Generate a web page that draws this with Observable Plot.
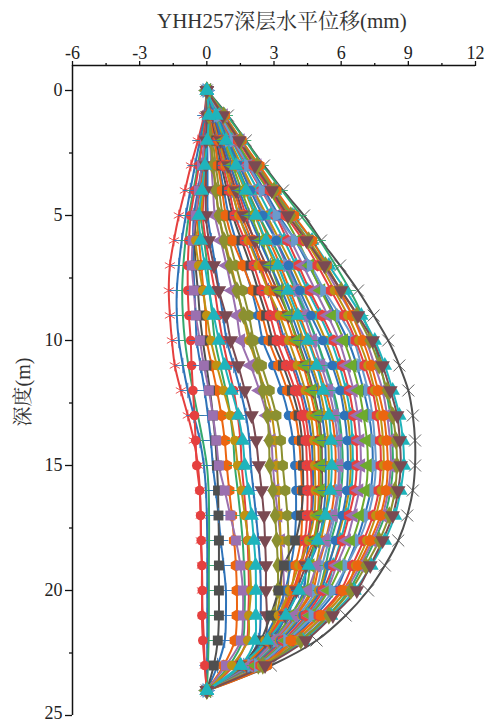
<!DOCTYPE html>
<html>
<head>
<meta charset="utf-8">
<script src="https://cdn.jsdelivr.net/npm/d3@7"></script>
<script src="https://cdn.jsdelivr.net/npm/@observablehq/plot@0.6"></script>
<style>
html,body{margin:0;padding:0;background:#fff;}
#wrap{position:relative;width:488px;height:723px;overflow:hidden;}
.lab{position:absolute;font-family:"Liberation Serif","Noto Serif CJK SC","Noto Sans CJK SC",serif;font-size:20px;color:#333;white-space:nowrap;line-height:20px;}
#title{left:157px;top:11px;font-size:21px;}
#ylab{left:23px;top:392px;transform:translate(-50%,-50%) rotate(-90deg);}
</style>
</head>
<body>
<div id="wrap"><div id="chart"></div>
<div class="lab" id="title">YHH257深层水平位移(mm)</div>
<div class="lab" id="ylab">深度(m)</div></div>
<script>
const depth=[0,1,2,3,4,5,6,7,8,9,10,11,12,13,14,15,16,17,18,19,20,21,22,23,24];
const xMajor=[-6,-3,0,3,6,9,12];
const xMinor=[-4.5,-1.5,1.5,4.5,7.5,10.5];
const yMajor=[0,5,10,15,20];
const yLast=[25];
const yMinor=[2.5,7.5,12.5,17.5,22.5];
const s01=[0,-.13,-.40,-.71,-.98,-1.25,-1.47,-1.65,-1.70,-1.65,-1.56,-1.43,-1.16,-.85,-.58,-.40,-.31,-.27,-.27,-.22,-.22,-.18,-.13,-.09,0];
const s02=[0,-.09,-.31,-.53,-.74,-.94,-1.12,-1.25,-1.34,-1.34,-1.25,-1.07,-.85,-.58,-.31,-.13,-.04,0,.02,.02,.02,.02,.02,.01,0];
const s03=[0,-.05,-.22,-.40,-.60,-.80,-.95,-1.05,-1.10,-1.07,-.98,-.82,-.62,-.40,-.18,0,.08,.10,.10,.09,.09,.09,.08,.05,0];
const s04=[0,-.04,-.18,-.35,-.54,-.72,-.80,-.85,-.85,-.80,-.72,-.68,-.62,-.55,-.50,-.45,-.32,-.28,-.25,-.22,-.20,-.22,-.18,-.09,0];
const s05=[0,.02,-.09,-.22,-.36,-.50,-.63,-.67,-.58,-.49,-.31,-.13,.09,.27,.42,.54,.80,1.05,1.30,1.50,1.61,1.61,1.52,.85,0];
const s06=[0,0,-.09,-.22,-.36,-.50,-.54,-.50,-.40,-.31,-.18,-.02,.14,.27,.38,.45,.50,.52,.54,.54,.54,.54,.49,.31,0];
const s07=[0,.05,-.02,-.09,-.18,-.27,-.49,-.36,-.18,0,.18,.45,.75,1.05,1.25,1.38,1.55,1.70,1.85,1.92,1.97,1.88,1.83,1.12,0];
const s08=[0,.09,.02,-.09,-.22,-.36,-.27,-.09,.09,.31,.54,.80,1.10,1.40,1.60,1.70,1.85,2.0,2.10,2.18,2.19,2.19,2.14,1.52,0];
const s09=[0,.02,-.04,-.04,-.04,-.04,.09,.31,.54,.85,1.07,1.40,1.70,2.0,2.20,2.32,2.45,2.55,2.60,2.64,2.64,2.68,2.60,1.90,0];
const s10=[0,.09,.18,.27,.40,.54,.76,1.03,1.34,1.65,1.97,2.25,2.50,2.70,2.78,2.81,2.95,3.05,3.12,3.17,3.17,3.0,2.8,2.3,0];
const s11=[0,.12,.27,.40,.55,.71,1.0,1.30,1.60,1.88,2.10,2.45,2.80,3.10,3.30,3.39,3.50,3.60,3.65,3.66,3.60,3.35,2.9,2.0,0];
const s12=[0,.15,.35,.55,.76,.98,1.30,1.65,2.0,2.28,2.50,2.95,3.35,3.65,3.85,3.93,3.98,3.98,3.92,3.75,3.50,3.10,2.50,1.60,0];
const s13=[0,.15,.35,.50,.68,.85,1.16,1.61,2.05,2.46,2.77,3.2,3.6,3.95,4.12,4.2,4.25,4.25,4.2,3.97,3.75,3.3,2.7,1.75,0];
const s14=[0,.2,.42,.65,.9,1.16,1.55,1.95,2.3,2.65,2.95,3.4,3.8,4.1,4.25,4.29,4.3,4.2,3.95,3.44,3.2,2.85,2.4,1.55,0];
const s15=[0,.35,.7,1.05,1.4,1.74,2.10,2.41,2.77,3.08,3.39,3.8,4.15,4.4,4.55,4.64,4.68,4.65,4.5,4.2,3.85,3.35,2.7,1.7,0];
const s16=[0,.25,.55,.82,1.12,1.43,1.85,2.3,2.75,3.25,3.66,4.05,4.4,4.65,4.78,4.82,4.85,4.8,4.55,4.11,3.7,3.2,2.6,1.65,0];
const s17=[0,.28,.6,.9,1.22,1.56,2.0,2.5,3.0,3.5,3.89,4.3,4.6,4.85,4.97,5.0,5.0,4.95,4.75,4.29,3.9,3.4,2.75,1.75,0];
const s18=[0,.3,.62,.95,1.3,1.65,2.15,2.65,3.15,3.65,4.06,4.45,4.75,5.0,5.12,5.14,5.15,5.05,4.85,4.42,4.0,3.5,2.85,1.8,0];
const s19=[0,.32,.68,1.05,1.45,1.88,2.35,2.85,3.35,3.8,4.2,4.6,4.95,5.15,5.28,5.31,5.3,5.2,5.0,4.56,4.1,3.55,2.9,1.85,0];
const s20=[0,.42,.85,1.3,1.75,2.19,2.64,3.17,3.62,4.06,4.51,4.9,5.2,5.45,5.55,5.58,5.52,5.3,4.95,4.55,4.11,3.53,2.7,1.5,0];
const s21=[0,.5,1.0,1.5,2.05,2.64,3.1,3.55,3.95,4.35,4.73,5.1,5.45,5.7,5.85,5.9,5.85,5.65,5.3,4.9,4.51,3.89,3.0,1.9,0];
const s22=[0,.45,.9,1.35,1.8,2.32,2.9,3.45,3.95,4.45,4.91,5.3,5.65,5.9,6.03,6.07,6.0,5.85,5.55,5.3,5.0,4.2,3.25,2.05,0];
const s23=[0,.48,.95,1.45,1.95,2.5,3.1,3.65,4.15,4.65,5.18,5.6,5.95,6.15,6.27,6.3,6.25,6.05,5.75,5.45,5.09,4.3,3.3,2.1,0];
const s24=[0,.55,1.15,1.8,2.45,3.08,3.6,4.1,4.6,5.15,5.67,6.05,6.35,6.55,6.68,6.7,6.6,6.35,6.05,5.65,5.18,4.42,3.4,2.15,0];
const s25=[0,.65,1.3,2.0,2.75,3.44,4.05,4.6,5.1,5.65,6.12,6.5,6.8,7.0,7.15,7.19,7.1,6.85,6.5,6.0,5.45,4.65,3.55,2.2,0];
const s26=[0,.6,1.2,1.85,2.5,3.13,3.95,4.65,5.25,5.95,6.57,6.9,7.2,7.4,7.5,7.55,7.45,7.2,6.8,6.25,5.63,4.73,3.6,2.3,0];
const s27=[0,.8,1.55,2.35,3.1,3.89,4.7,5.35,5.95,6.5,6.97,7.35,7.65,7.9,8.03,8.08,8.0,7.75,7.3,6.75,6.07,5.09,3.75,2.68,0];
const s28=[0,.75,1.5,2.25,3.0,3.75,4.55,5.3,6.0,6.7,7.28,7.7,8.05,8.3,8.45,8.49,8.4,8.15,7.7,7.1,6.43,5.45,4.2,2.5,0];
const s29=[0,.72,1.45,2.15,2.9,3.62,4.45,5.25,6.0,6.75,7.41,7.85,8.2,8.5,8.62,8.66,8.55,8.3,7.85,7.3,6.7,5.63,4.42,2.6,0];
const s30=[0,.78,1.55,2.3,3.05,3.84,4.7,5.45,6.2,6.9,7.5,7.95,8.3,8.6,8.76,8.8,8.65,8.4,7.95,7.35,6.6,5.55,4.3,2.55,0];
const s31=[0,.9,1.72,2.5,3.35,4.2,5.05,5.75,6.4,6.95,7.41,7.75,8.0,8.2,8.28,8.31,8.2,7.95,7.5,6.95,6.34,5.4,4.15,2.5,0];
const s32=[0,.75,1.5,2.25,3.0,3.75,4.5,5.2,5.85,6.5,7.1,7.5,7.85,8.05,8.18,8.22,8.1,7.85,7.4,6.85,6.2,5.25,4.0,2.45,0];
const s33=[0,.94,1.74,2.55,3.4,4.34,5.1,5.95,6.75,7.45,8.1,8.6,9.0,9.2,9.3,9.3,9.2,8.95,8.55,7.95,7.2,6.2,4.9,2.86,0];
const s34=[0,.02,-.09,-.22,-.40,-.58,-.62,-.60,-.55,-.50,-.45,-.28,-.10,.05,.18,.27,.40,.52,.62,.75,.85,.85,.80,.48,0];
const s35=[0,.04,-.05,-.15,-.30,-.45,-.35,-.25,-.15,-.05,0,.22,.45,.65,.80,.89,1.0,1.12,1.22,1.3,1.34,1.34,1.25,.75,0];
const s36=[0,.03,0,-.08,-.18,-.27,-.12,.02,.12,.24,.36,.60,.85,1.05,1.18,1.25,1.38,1.5,1.6,1.66,1.7,1.68,1.6,1.0,0];
const s37=[0,.05,.02,-.05,-.12,-.18,-.05,.15,.35,.52,.71,.95,1.2,1.38,1.5,1.56,1.66,1.75,1.82,1.86,1.88,1.85,1.78,1.2,0];
const s38=[0,.03,.02,.03,.03,.04,.2,.38,.55,.72,.89,1.2,1.5,1.75,1.9,1.97,2.08,2.2,2.3,2.38,2.41,2.4,2.3,1.65,0];
const s40=[0,.08,.14,.2,.28,.36,.62,.88,1.12,1.34,1.52,1.95,2.35,2.68,2.88,2.95,3.05,3.18,3.3,3.4,3.44,3.3,3.0,2.2,0];
const s41=[0,.1,.2,.3,.42,.54,.8,1.08,1.36,1.62,1.88,2.25,2.6,2.9,3.05,3.13,3.2,3.25,3.3,3.32,3.3,3.1,2.75,1.95,0];
const s44=[0,.22,.48,.72,1.0,1.25,1.7,2.1,2.45,2.82,3.13,3.55,3.95,4.25,4.42,4.47,4.5,4.48,4.38,4.2,4.02,3.55,2.9,1.8,0];
const s45=[0,.25,.52,.82,1.12,1.43,1.9,2.35,2.75,3.15,3.48,3.9,4.25,4.52,4.68,4.73,4.75,4.7,4.55,4.42,4.33,3.75,3.0,1.9,0];
const s46=[0,.35,.75,1.15,1.55,1.97,2.42,2.85,3.25,3.65,4.02,4.4,4.7,4.95,5.06,5.09,5.08,4.98,4.82,4.62,4.42,3.75,2.95,1.85,0];
const s47=[0,.38,.8,1.25,1.7,2.14,2.6,3.05,3.5,3.95,4.33,4.7,5.05,5.28,5.42,5.45,5.42,5.3,5.1,4.88,4.64,3.95,3.05,1.95,0];
const s48=[0,.42,.88,1.35,1.82,2.32,2.8,3.28,3.72,4.15,4.56,4.95,5.3,5.58,5.72,5.76,5.7,5.55,5.3,5.0,4.73,4.0,3.1,2.0,0];
const s49=[0,.5,1.0,1.52,2.05,2.59,3.1,3.6,4.05,4.5,4.91,5.25,5.6,5.82,5.95,5.98,5.9,5.72,5.45,5.15,4.87,4.1,3.15,2.0,0];
const s50=[0,.5,1.02,1.55,2.1,2.68,3.25,3.8,4.3,4.82,5.31,5.72,6.05,6.28,6.4,6.43,6.35,6.12,5.8,5.4,5.0,4.25,3.25,2.1,0];
const s51=[0,.55,1.12,1.68,2.28,2.86,3.45,3.98,4.5,5.05,5.54,5.92,6.22,6.42,6.5,6.52,6.45,6.25,5.98,5.65,5.31,4.5,3.45,2.15,0];
const s52=[0,.6,1.22,1.85,2.5,3.13,3.75,4.3,4.85,5.4,5.9,6.25,6.55,6.75,6.85,6.88,6.8,6.55,6.25,5.8,5.36,4.6,3.5,2.2,0];
const s53=[0,.62,1.28,1.92,2.58,3.22,3.95,4.55,5.15,5.75,6.3,6.7,7.0,7.25,7.38,7.41,7.32,7.05,6.7,6.25,5.76,4.85,3.7,2.3,0];
const s54=[0,.7,1.4,2.1,2.82,3.53,4.3,4.95,5.55,6.15,6.65,7.05,7.4,7.6,7.74,7.77,7.68,7.42,7.0,6.5,5.98,5.0,3.85,2.4,0];
const s55=[0,.72,1.45,2.2,2.95,3.66,4.42,5.1,5.7,6.3,6.79,7.2,7.5,7.75,7.87,7.9,7.8,7.55,7.15,6.65,6.2,5.2,3.95,2.45,0];

const red="#E5403F",blue="#2F73B9",green="#34A96D",purple="#9B70AF",gold="#BF9212",teal="#1FB4BC",maroon="#7A4A52",olive="#8B9030",orange="#EC6510",steel="#6A9BCC",lime="#6DAA2D",dgray="#4F4F4F";
const hbar={draw(c,s){const r=Math.sqrt(s/Math.PI)*1.2;c.moveTo(-r,0);c.lineTo(r,0);}};
const markerSize={circle:4.8,square:5.6,triangle:5.4,diamond:5.6,hexagon:5.2,asterisk:5.5,plus:5,times:5.5};
// [values, colour, symbol, rotation, open symbol]
const series=[
 [s33,dgray,"times",0,true],
 [s31,green,hbar,0,true],
 [s32,purple,"triangle",270,false],
 [s30,teal,"triangle",0,false],
 [s01,red,"asterisk",0,true],
 [s02,blue,"plus",0,true],
 [s03,green,hbar,0,true],
 [s04,red,"circle",0,false],
 [s34,blue,"plus",0,true],
 [s35,orange,"hexagon",0,false],
 [s36,green,hbar,0,true],
 [s37,red,"circle",0,false],
 [s06,dgray,"square",0,false],
 [s38,blue,"plus",0,true],
 [s05,purple,"square",0,false],
 [s07,gold,"circle",0,false],
 [s40,purple,"triangle",270,false],
 [s41,gold,"circle",0,false],
 [s09,maroon,"triangle",180,false],
 [s10,olive,"diamond",0,false],
 [s11,olive,"hexagon",0,false],
 [s12,blue,"circle",0,false],
 [s13,orange,"hexagon",0,false],
 [s14,dgray,"square",0,false],
 [s44,red,"hexagon",0,false],
 [s45,blue,"plus",0,true],
 [s15,red,"hexagon",0,false],
 [s16,gold,"circle",0,false],
 [s17,orange,"hexagon",0,false],
 [s18,maroon,"triangle",180,false],
 [s46,lime,"triangle",270,false],
 [s47,gold,"circle",0,false],
 [s19,blue,"plus",0,true],
 [s48,orange,"hexagon",0,false],
 [s49,steel,"triangle",90,false],
 [s21,purple,"triangle",270,false],
 [s22,green,hbar,0,true],
 [s50,gold,"circle",0,false],
 [s51,teal,"triangle",0,false],
 [s23,blue,"circle",0,false],
 [s24,red,"hexagon",0,false],
 [s52,purple,"triangle",270,false],
 [s53,blue,"circle",0,false],
 [s25,lime,"triangle",270,false],
 [s26,steel,"triangle",90,false],
 [s54,red,"hexagon",0,false],
 [s55,gold,"circle",0,false],
 [s27,orange,"hexagon",0,false],
 [s28,olive,"diamond",0,false],
 [s29,maroon,"triangle",180,false],
 [s20,teal,"triangle",0,false],
 [s08,teal,"triangle",0,false]
];
const marks=[];
for(const [vals,color] of series){
  marks.push(Plot.line(depth,{x:(d,i)=>vals[i],y:d=>d,stroke:color,strokeWidth:2,curve:"catmull-rom"}));
}
for(const [vals,color,sym,rot,open] of series){
  const r=typeof sym==="string"?markerSize[sym]:5;
  marks.push(Plot.dot(depth,{x:(d,i)=>vals[i],y:d=>d,symbol:()=>sym,rotate:rot,r,
    fill:open?"none":color,stroke:color,strokeWidth:open?0.9:0}));
}
marks.push(
  Plot.ruleX([-6],{stroke:"#111",strokeWidth:1.5}),
  Plot.ruleY([-1],{stroke:"#111",strokeWidth:1.5}),
  Plot.axisX({anchor:"top",ticks:xMajor,tickSize:5,tickPadding:2,label:null,tickFormat:d=>String(d),stroke:"#111",strokeWidth:1.3,fill:"#222"}),
  Plot.axisX({anchor:"top",ticks:xMinor,tickSize:3,label:null,tickFormat:()=>"",stroke:"#111",strokeWidth:1.3}),
  Plot.axisY({anchor:"left",ticks:yMajor,tickSize:7,tickPadding:3,label:null,tickFormat:d=>String(d),stroke:"#111",strokeWidth:1.3,fill:"#222"}),
  Plot.axisY({anchor:"left",ticks:yLast,tickSize:0,tickPadding:10,label:null,tickFormat:d=>String(d),fill:"#222",dy:-2}),
  Plot.axisY({anchor:"left",ticks:yLast,tickSize:7,label:null,tickFormat:()=>"",stroke:"#111",strokeWidth:1.3}),
  Plot.axisY({anchor:"left",ticks:yMinor,tickSize:3,label:null,tickFormat:()=>"",stroke:"#111",strokeWidth:1.3})
);
const chart=Plot.plot({
  width:488,height:723,
  marginTop:65,marginBottom:8,marginLeft:72,marginRight:13,
  style:{fontFamily:'"Liberation Serif",serif',fontSize:"18px",background:"#fff",overflow:"visible"},
  x:{domain:[-6,12]},
  y:{domain:[-1,25],range:[65,715]},
  symbol:{type:"identity"},
  marks
});
document.getElementById("chart").appendChild(chart);
</script>
</body>
</html>
